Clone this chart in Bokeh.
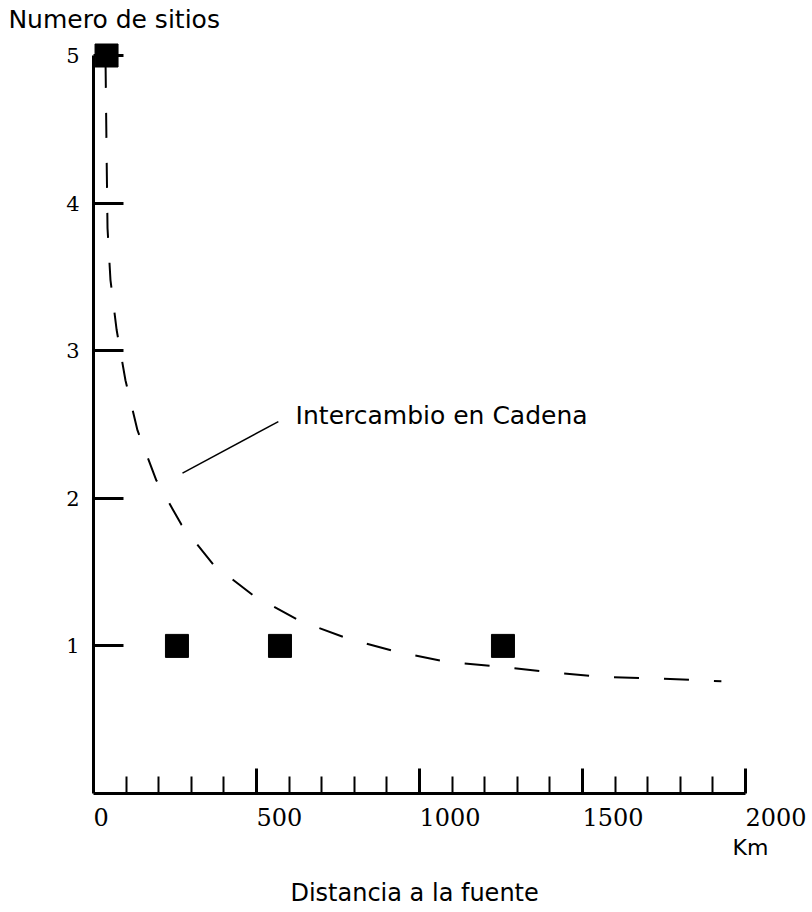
from bokeh.plotting import figure
from bokeh.models import FixedTicker, Label, Range1d, LinearAxis
from bokeh.embed import file_html
from bokeh.resources import INLINE

# ---- data ----
sites_km = [40, 256, 572, 1256]
sites_count = [5, 1, 1, 1]

curve_km = [37, 40, 43, 52, 71, 98, 135, 193, 270, 368, 491, 632, 779, 929,
            1089, 1245, 1408, 1561, 1724, 1926]
curve_count = [4.95, 4.36, 3.83, 3.48, 3.14, 2.80, 2.46, 2.12, 1.82, 1.55, 1.34,
               1.17, 1.05, 0.96, 0.89, 0.86, 0.82, 0.79, 0.78, 0.76]

y_ticks = [1, 2, 3, 4, 5]
x_major_ticks = [500, 1000, 1500, 2000]
x_minor_ticks = [100, 200, 300, 400, 600, 700, 800, 900, 1100, 1200, 1300, 1400,
                 1600, 1700, 1800, 1900]
x_label_ticks = [0, 500, 1000, 1500, 2000]
x_tick_labels = ["0", "500", "1000", "1500", "2000"]

leader_km = [273, 567]
leader_count = [2.17, 2.52]

series_label = "Intercambio en Cadena"
y_title = "Numero de sitios"
x_title = "Distancia a la fuente"
x_unit = "Km"

SANS = "DejaVu Sans"
SERIF = "DejaVu Serif"

# ---- layout (pixels) ----
W, H = 810, 910
X0_PX, PX_PER_KM = 93, 0.326      # where km 0 sits, scale
Y0_PX, PX_PER_UNIT = 793, 147.6   # where count 0 sits, scale

x_start = -X0_PX / PX_PER_KM
x_end = (W - X0_PX) / PX_PER_KM
y_end = Y0_PX / PX_PER_UNIT
y_start = -(H - Y0_PX) / PX_PER_UNIT

p = figure(width=W, height=H, title=None,
           x_range=Range1d(x_start, x_end), y_range=Range1d(y_start, y_end),
           x_axis_type=None, y_axis_type=None,
           output_backend="svg", toolbar_location=None, min_border=0)
p.outline_line_color = None
p.background_fill_color = "white"
p.border_fill_color = "white"

# x axis (fixed at count 0)
xa = LinearAxis(fixed_location=0)
xa.ticker = FixedTicker(ticks=x_major_ticks, minor_ticks=x_minor_ticks)
xa.bounds = (0, 2000)
xa.axis_line_width = 3
xa.axis_line_color = "black"
xa.major_tick_in = 25
xa.major_tick_out = 0
xa.major_tick_line_width = 3
xa.minor_tick_in = 17
xa.minor_tick_out = 0
xa.minor_tick_line_width = 2
xa.major_label_text_color = None
p.add_layout(xa, "below")

# y axis (fixed at km 0)
ya = LinearAxis(fixed_location=0)
ya.ticker = FixedTicker(ticks=y_ticks, minor_ticks=[])
ya.bounds = (0, 5)
ya.axis_line_width = 3
ya.axis_line_color = "black"
ya.major_tick_in = 30
ya.major_tick_out = 0
ya.major_tick_line_width = 3
ya.minor_tick_line_color = None
ya.major_label_standoff = 14
ya.major_label_text_font = SERIF
ya.major_label_text_font_size = "21px"
ya.major_label_text_color = "black"
p.add_layout(ya, "left")

# dashed curve
p.line(curve_km, curve_count, line_color="black", line_width=2, line_dash="25 25")

# sites
p.scatter(sites_km, sites_count, marker="square", size=23,
          fill_color="black", line_color="black")

# leader line
p.line(leader_km, leader_count, line_color="black", line_width=1.5)

# x tick labels (left aligned at their ticks)
for v, t in zip(x_label_ticks, x_tick_labels):
    p.add_layout(Label(x=v, y=-0.16, text=t, text_align="left",
                       text_baseline="middle", text_font=SERIF,
                       text_font_size="24px", text_color="black"))

p.add_layout(Label(x=620, y=2.56, text=series_label, text_align="left",
                   text_baseline="middle", text_font=SANS,
                   text_font_size="25px", text_color="black"))
p.add_layout(Label(x=-261, y=5.245, text=y_title, text_align="left",
                   text_baseline="middle", text_font=SANS,
                   text_font_size="25px", text_color="black"))
p.add_layout(Label(x=2015, y=-0.366, text=x_unit, text_align="center",
                   text_baseline="middle", text_font=SANS,
                   text_font_size="22px", text_color="black"))
p.add_layout(Label(x=985, y=-0.671, text=x_title, text_align="center",
                   text_baseline="middle", text_font=SANS,
                   text_font_size="24px", text_color="black"))

open("out.html", "w").write(file_html(p, INLINE))
